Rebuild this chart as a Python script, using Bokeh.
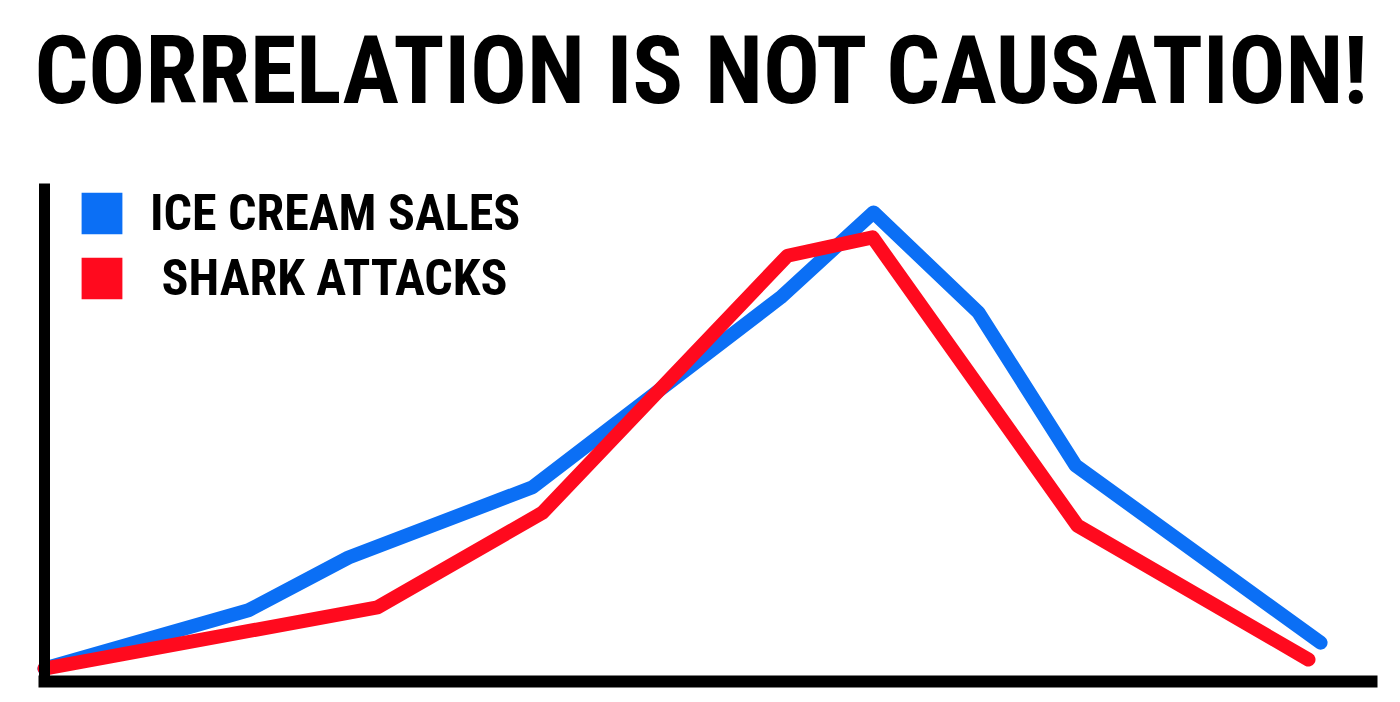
from bokeh.plotting import figure
from bokeh.models import Range1d, FixedTicker, Legend, LegendItem, Label
from bokeh.embed import file_html
from bokeh.resources import INLINE

# ---- data (arbitrary 0-100 units) ----
ice_x = [0.0, 15.37, 22.91, 36.77, 55.46, 62.47, 70.38, 77.69, 96.16]
ice_cream_sales = [2.6, 14.3, 24.9, 39.0, 77.1, 94.2, 74.1, 43.4, 7.8]
shark_x = [0.0, 25.09, 37.53, 55.99, 62.40, 77.84, 95.25]
shark_attacks = [2.6, 14.9, 33.9, 85.5, 89.2, 31.3, 4.4]
axis_bounds = (0, 100)
labels = ["ICE CREAM SALES", "\u00a0SHARK ATTACKS"]
title_text = "CORRELATION IS NOT CAUSATION!"

BLUE = "#0B6FF5"
RED = "#FF0A1E"
FONT = "Roboto Condensed, Roboto, sans-serif"

W, H = 1392, 694
p = figure(width=W, height=H, output_backend="svg", toolbar_location=None,
           x_range=Range1d(-3.316, 101.58), y_range=Range1d(-2.61, 136.75),
           min_border_left=0, min_border_right=0, min_border_bottom=0, min_border_top=0)
p.outline_line_color = None
p.xgrid.visible = False
p.ygrid.visible = False
p.background_fill_color = "white"
p.border_fill_color = "white"

for ax, w, cap in ((p.xaxis[0], 12, "square"), (p.yaxis[0], 11, "butt")):
    ax.ticker = FixedTicker(ticks=[])
    ax.major_tick_in = 0
    ax.major_tick_out = 0
    ax.minor_tick_in = 0
    ax.minor_tick_out = 0
    ax.major_label_text_font_size = "0px"
    ax.axis_line_width = w
    ax.axis_line_color = "black"
    ax.axis_line_cap = cap
    ax.fixed_location = 0
    ax.bounds = axis_bounds

p.line(ice_x, ice_cream_sales, line_color=BLUE, line_width=14, line_cap="round", line_join="round")
p.line(shark_x, shark_attacks, line_color=RED, line_width=14, line_cap="round", line_join="round")

# legend swatches (hidden renderers; legend draws their glyph as a filled square)
lb = p.vbar(x=ice_x, top=ice_cream_sales, width=0.5, fill_color=BLUE, line_color=None, visible=False)
lr = p.vbar(x=shark_x, top=shark_attacks, width=0.5, fill_color=RED, line_color=None, visible=False)

legend = Legend(items=[LegendItem(label=labels[0], renderers=[lb]),
                       LegendItem(label=labels[1], renderers=[lr])],
                location=(76, 387), glyph_width=51, glyph_height=52, label_standoff=23,
                spacing=7, padding=0, margin=0, border_line_color=None,
                background_fill_alpha=0, label_text_font=FONT, label_text_font_style="bold",
                label_text_font_size="50px", label_text_color="black", click_policy="none")
p.add_layout(legend, "center")

title = Label(x=34, y=624, x_units="screen", y_units="screen", text=title_text,
              text_font=FONT, text_font_style="bold", text_font_size="94.5px",
              text_color="black", text_align="left", text_baseline="alphabetic")
p.add_layout(title)

open("out.html", "w").write(file_html(p, INLINE))
